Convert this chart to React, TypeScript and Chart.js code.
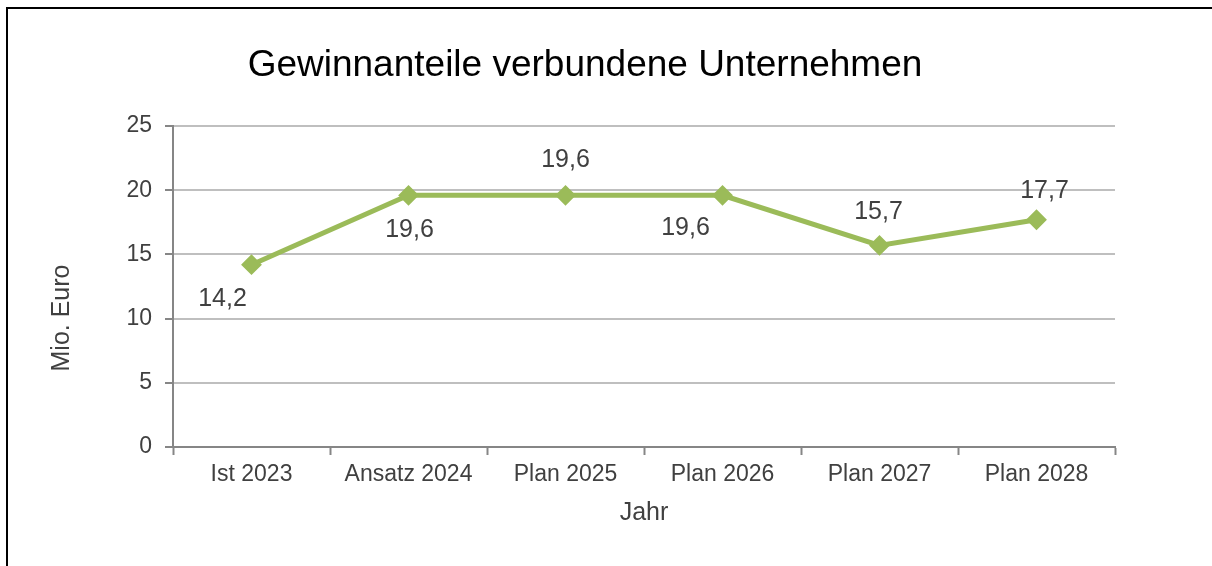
import React, { useEffect, useRef } from "react";
import { Chart, registerables } from "chart.js";

Chart.register(...registerables);

const chartTitle = "Gewinnanteile verbundene Unternehmen";
const categories = ["Ist 2023", "Ansatz 2024", "Plan 2025", "Plan 2026", "Plan 2027", "Plan 2028"];
const values = [14.2, 19.6, 19.6, 19.6, 15.7, 17.7];
const yTitle = "Mio. Euro";
const xTitle = "Jahr";

// label placement relative to each point (dx, baseline dy) in px
const labelOffsets = [
  [-29, 41],
  [1, 42],
  [0, -28],
  [-37, 40],
  [-1, -26],
  [8, -22],
];

const FONT = "'Liberation Sans', Arial, sans-serif";
const GREEN = "#9BBB59";
const TEXT = "#404040";

export default function App() {
  const ref = useRef<HTMLCanvasElement | null>(null);

  useEffect(() => {
    if (!ref.current) return;
    const titlePlugin = {
      id: "customTitle",
      afterDraw(chart: any) {
        const ctx = chart.ctx;
        ctx.save();
        ctx.font = `37px ${FONT}`;
        ctx.fillStyle = "#000";
        ctx.textAlign = "center";
        ctx.textBaseline = "alphabetic";
        ctx.fillText(chartTitle, 577, 68);
        ctx.restore();
        // y axis title
        ctx.save();
        ctx.font = `25px ${FONT}`;
        ctx.fillStyle = TEXT;
        ctx.textAlign = "center";
        ctx.textBaseline = "middle";
        ctx.translate(54, 310);
        ctx.rotate(-Math.PI / 2);
        ctx.fillText(yTitle, 0, 0);
        ctx.restore();
      },
    };
    const labelPlugin = {
      id: "pointLabels",
      afterDatasetsDraw(chart: any) {
        const ctx = chart.ctx;
        const meta = chart.getDatasetMeta(0);
        ctx.save();
        ctx.font = `25px ${FONT}`;
        ctx.fillStyle = TEXT;
        ctx.textAlign = "center";
        ctx.textBaseline = "alphabetic";
        meta.data.forEach((pt: any, i: number) => {
          const [dx, dy] = labelOffsets[i];
          ctx.fillText(values[i].toFixed(1).replace(".", ","), pt.x + dx, pt.y + dy);
        });
        ctx.restore();
      },
    };
    const chart = new Chart(ref.current, {
      type: "line",
      data: {
        labels: categories,
        datasets: [
          {
            data: values,
            borderColor: GREEN,
            backgroundColor: GREEN,
            borderWidth: 5,
            pointStyle: "rectRot",
            pointRadius: 9,
            pointBorderWidth: 2,
            pointBackgroundColor: GREEN,
            pointBorderColor: GREEN,
            tension: 0,
          },
        ],
      },
      options: {
        animation: false,
        responsive: false,
        devicePixelRatio: 1,
        layout: { padding: { left: 0, right: 97, top: 118, bottom: 0 } },
        plugins: {
          legend: { display: false },
          title: { display: false },
          tooltip: { enabled: false },
        },
        scales: {
          x: {
            offset: true,
            grid: {
              display: true,
              drawOnChartArea: false,
              drawTicks: true,
              offset: true,
              tickLength: 8,
              tickColor: "#868686",
              tickWidth: 2,
            },
            border: { color: "#868686", width: 2 },
            ticks: { color: TEXT, font: { family: FONT, size: 23 }, padding: 6, maxRotation: 0, autoSkip: false },
            title: {
              display: true,
              text: xTitle,
              color: TEXT,
              font: { family: FONT, size: 25 },
              padding: { top: 0, bottom: 38 },
            },
            afterFit(scale: any) {
              scale.height = 119;
            },
          },
          y: {
            min: 0,
            max: 25,
            ticks: { stepSize: 5, color: TEXT, font: { family: FONT, size: 23 }, padding: 13 },
            grid: {
              color: "#BFBFBF",
              lineWidth: 2,
              tickLength: 8,
              tickColor: "#868686",
              tickWidth: 2,
            },
            border: { color: "#868686", width: 2 },
            title: { display: false },
            afterFit(scale: any) {
              scale.width = 165;
            },
          },
        },
      },
      plugins: [titlePlugin, labelPlugin],
    });
    return () => chart.destroy();
  }, []);

  return (
    <div style={{ position: "fixed", left: 0, top: 0, width: 1212, height: 566, overflow: "hidden", background: "#fff" }}>
      <div
        style={{
          position: "absolute",
          left: 6,
          top: 7,
          width: 1400,
          height: 800,
          borderLeft: "2px solid #000",
          borderTop: "2px solid #000",
        }}
      />
      <canvas
        ref={ref}
        width={1204}
        height={558}
        style={{ position: "absolute", left: 8, top: 8, width: 1204, height: 558 }}
      />
    </div>
  );
}
